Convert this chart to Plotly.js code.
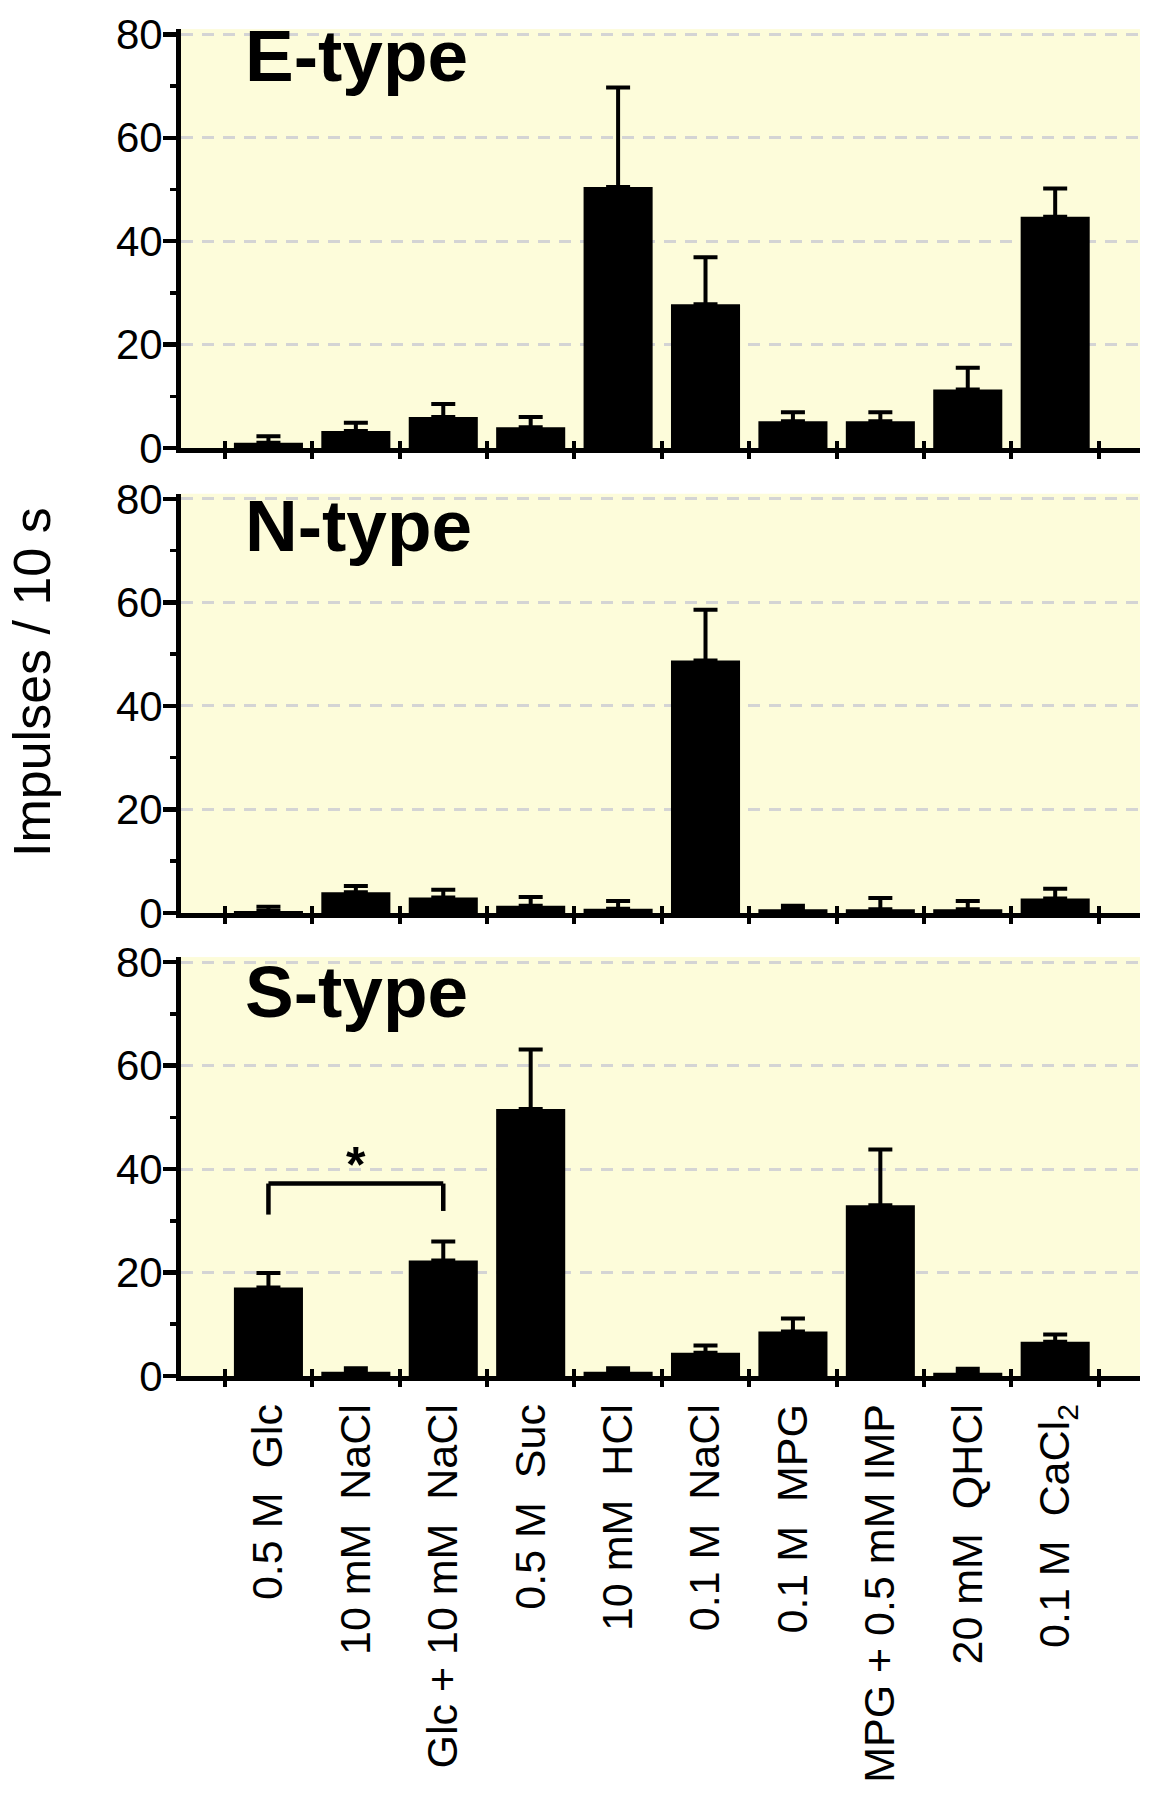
<!DOCTYPE html>
<html>
<head>
<meta charset="utf-8">
<script src="https://cdn.plot.ly/plotly-3.0.1.min.js"></script>
<style>
  html, body { margin: 0; padding: 0; background: #ffffff; }
  #chart { width: 1153px; height: 1800px; }
</style>
</head>
<body>
<div id="chart"></div>
<script>
// ---------- data ----------
const categories = [
  '0.5 M \u00a0Glc',
  '10 mM \u00a0NaCl',
  'Glc + 10 mM \u00a0NaCl',
  '0.5 M \u00a0Suc',
  '10 mM \u00a0HCl',
  '0.1 M \u00a0NaCl',
  '0.1 M \u00a0MPG',
  'MPG + 0.5 mM IMP',
  '20 mM \u00a0QHCl',
  '0.1 M \u00a0CaCl<sub>2</sub>'
];
const panelNames = ['E-type', 'N-type', 'S-type'];

const eTypeMean = [1.0, 3.3, 6.0, 4.0, 50.5, 27.8, 5.2, 5.2, 11.3, 44.7];
const eTypeSem  = [1.3, 1.6, 2.5, 2.0, 19.2, 9.1, 1.7, 1.7, 4.2, 5.5];

const nTypeMean = [0.4, 4.0, 3.0, 1.4, 0.8, 48.8, 0.7, 0.7, 0.7, 2.8];
const nTypeSem  = [0.8, 1.2, 1.5, 1.7, 1.5, 9.8, 0.7, 2.2, 1.6, 1.9];

const sTypeMean = [17.1, 0.8, 22.3, 51.6, 0.8, 4.5, 8.6, 33.0, 0.6, 6.6];
const sTypeSem  = [2.8, 0.7, 3.7, 11.5, 0.7, 1.4, 2.5, 10.8, 0.8, 1.4];

const yMajorTicks = [0, 20, 40, 60, 80];
const yMinorTicks = [10, 30, 50, 70];
const yTitle = 'Impulses / 10 s';

// significance bracket (S-type): between categories index 0 and 2
const sigPair = [0, 2];
const sigLevel = 37.2;
const sigLegEnds = [31.2, 31.9];
const sigLabel = '*';

// ---------- styling ----------
const FONT = '"Liberation Sans", Arial, Helvetica, sans-serif';
const BG = '#fdfcda';
const xDomain = [0.157, 0.9887];
const xRange = [-1.0, 9.97];
const yRange = [0, 81];
const yDomains = [[0.7511, 0.9838], [0.4928, 0.7257], [0.2356, 0.4683]];

const means = [eTypeMean, nTypeMean, sTypeMean];
const sems = [eTypeSem, nTypeSem, sTypeSem];

const traces = [];
const layout = {
  width: 1153, height: 1800,
  margin: {l: 0, r: 0, t: 0, b: 0},
  paper_bgcolor: '#ffffff',
  plot_bgcolor: BG,
  showlegend: false,
  font: {family: FONT, color: '#000'},
  annotations: [],
  shapes: []
};

for (let p = 0; p < 3; p++) {
  const sfx = p === 0 ? '' : String(p + 1);
  const ovSfx = String(p + 4);
  traces.push({
    type: 'bar',
    x: categories,
    y: means[p],
    xaxis: 'x' + sfx,
    yaxis: 'y' + sfx,
    marker: {color: '#000000', line: {width: 0}},
    width: 0.79,
    error_y: {
      type: 'data', symmetric: false,
      array: sems[p],
      arrayminus: means[p].map(() => 0),
      color: '#000000', thickness: 4, width: 12
    },
    hoverinfo: 'skip'
  });
  // invisible trace carrying the overlay axis that draws the inner half of the crossing ticks
  traces.push({
    type: 'scatter', mode: 'markers',
    x: categories, y: means[p],
    xaxis: 'x' + ovSfx, yaxis: 'y' + sfx,
    marker: {opacity: 0, size: 1},
    hoverinfo: 'skip'
  });

  layout['xaxis' + sfx] = {
    domain: xDomain,
    anchor: 'y' + sfx,
    type: 'category',
    categoryorder: 'array',
    categoryarray: categories,
    range: xRange,
    tickson: 'boundaries',
    ticks: 'outside',
    ticklen: 6,
    tickwidth: 4,
    tickcolor: '#000',
    showline: true,
    linewidth: 5,
    linecolor: '#000',
    showgrid: false,
    zeroline: false,
    showticklabels: p === 2,
    tickangle: -90,
    tickfont: {family: FONT, size: 43, color: '#000'},
    ticklabelstandoff: 6
  };
  layout['xaxis' + ovSfx] = {
    overlaying: 'x' + sfx,
    anchor: 'y' + sfx,
    type: 'category',
    categoryorder: 'array',
    categoryarray: categories,
    range: xRange,
    tickson: 'boundaries',
    ticks: 'inside',
    ticklen: 7,
    tickwidth: 4,
    tickcolor: '#000',
    showline: false,
    showgrid: false,
    zeroline: false,
    showticklabels: false
  };
  layout['yaxis' + sfx] = {
    domain: yDomains[p],
    anchor: 'x' + sfx,
    range: yRange,
    tickmode: 'array',
    tickvals: yMajorTicks,
    ticks: 'outside',
    ticklen: 13,
    tickwidth: 4.5,
    tickcolor: '#000',
    showline: true,
    linewidth: 5,
    linecolor: '#000',
    showgrid: true,
    gridcolor: '#d4d4d4',
    gridwidth: 3,
    griddash: '12px,9px',
    zeroline: false,
    tickfont: {family: FONT, size: 42, color: '#000'},
    ticklabelstandoff: -8,
    minor: {
      tickmode: 'array',
      tickvals: yMinorTicks,
      ticks: 'outside',
      ticklen: 6,
      tickwidth: 3.5,
      tickcolor: '#000',
      showgrid: false
    }
  };

  // panel title
  const titleY = [0.9689, 0.7078, 0.4494][p];
  layout.annotations.push({
    xref: 'paper', yref: 'paper',
    x: 243 / 1153, y: titleY,
    xanchor: 'left', yanchor: 'middle',
    text: '<b>' + panelNames[p] + '</b>',
    showarrow: false,
    font: {family: FONT, size: 73, color: '#000'}
  });
}

// y-axis title (shared)
layout.annotations.push({
  xref: 'paper', yref: 'paper',
  x: 32 / 1153, y: 1 - 682 / 1800,
  xanchor: 'center', yanchor: 'middle',
  textangle: -90,
  text: yTitle,
  showarrow: false,
  font: {family: FONT, size: 52, color: '#000'}
});

// significance bracket on S-type
const sigLine = {color: '#000', width: 4.5};
layout.shapes.push(
  {type: 'line', xref: 'x3', yref: 'y3', x0: sigPair[0], x1: sigPair[1], y0: sigLevel, y1: sigLevel, line: sigLine},
  {type: 'line', xref: 'x3', yref: 'y3', x0: sigPair[0], x1: sigPair[0], y0: sigLevel, y1: sigLegEnds[0], line: sigLine},
  {type: 'line', xref: 'x3', yref: 'y3', x0: sigPair[1], x1: sigPair[1], y0: sigLevel, y1: sigLegEnds[1], line: sigLine}
);
layout.annotations.push({
  xref: 'x3', yref: 'y3',
  x: (sigPair[0] + sigPair[1]) / 2, y: sigLevel - 2.2,
  xanchor: 'center', yanchor: 'bottom',
  text: '<b>' + sigLabel + '</b>',
  showarrow: false,
  font: {family: FONT, size: 50, color: '#000'}
});

Plotly.newPlot('chart', traces, layout, {staticPlot: true, displayModeBar: false});
</script>
</body>
</html>
